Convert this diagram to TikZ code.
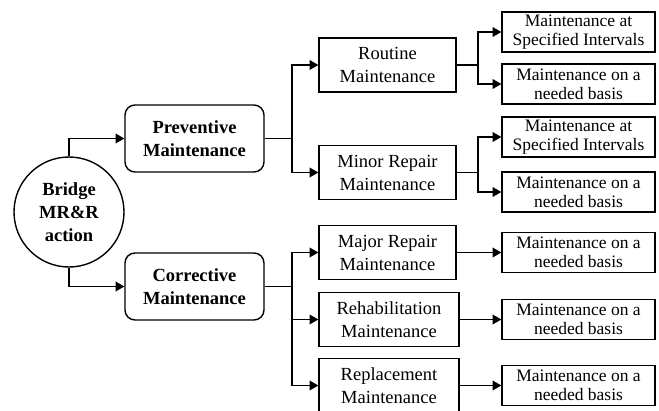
\documentclass[tikz,border=0pt]{standalone}
\usepackage{fontspec}
\setmainfont{Liberation Serif}
\usetikzlibrary{shapes,arrows,positioning}

\begin{document}
\begin{tikzpicture}[x=1pt,y=-1pt]

  \useasboundingbox (0,0) rectangle (659,410);

  \coordinate (Bridge) at (69,212);
  \coordinate (Prev) at (194.5,138.5);
  \coordinate (Corr) at (194.5,286.5);
  \coordinate (Rout) at (387.5,65);
  \coordinate (Minor) at (387.5,172.5);
  \coordinate (Major) at (387.5,252.5);
  \coordinate (Rehab) at (389,319.5);
  \coordinate (Replace) at (389,385.5);

  \coordinate (PrevJoint) at (292,138.5);
  \coordinate (CorrJoint) at (292,286.5);
  \coordinate (RoutJoint) at (478,65);
  \coordinate (MinorJoint) at (478,172.5);

  \tikzstyle{cbox}=[draw=black,line width=1.4pt,
                    shape=circle,minimum size=110pt,inner sep=0pt,
                    align=center,
                    font=\fontsize{18.5}{23}\selectfont\bfseries];
  \tikzstyle{pbox}=[draw=black,line width=1.4pt,
                    shape=rectangle,rounded corners=10pt,
                    inner sep=0pt,minimum width=139pt,minimum height=67pt,
                    align=center,
                    font=\fontsize{18.5}{23}\selectfont\bfseries];
  \tikzstyle{mbox}=[draw=black,line width=1.4pt,
                    shape=rectangle,
                    inner sep=0pt,minimum width=137pt,minimum height=54pt,
                    align=center,
                    font=\fontsize{18.5}{23}\selectfont];
  \tikzstyle{lbox}=[draw=black,line width=1.4pt,
                    shape=rectangle,
                    inner sep=0pt,minimum width=153pt,minimum height=40pt,
                    align=center,
                    font=\fontsize{17.5}{19}\selectfont];
  \tikzstyle{link}=[->,line width=1.4pt,>=triangle 60];

  \node[cbox] (BridgeBox) at (Bridge) {Bridge\\MR\&R\\action};

  \node[pbox] (PrevBox) at (Prev) {Preventive\\Maintenance};
  \draw[link] (BridgeBox.north) |- (PrevBox.west);

  \node[pbox] (CorrBox) at (Corr) {Corrective\\Maintenance};
  \draw[link] (BridgeBox.south) |- (CorrBox.west);

  % preventive branch
  \node[mbox] (RoutBox) at (Rout) {Routine\\Maintenance};
  \draw[link] (PrevBox.east) -- (PrevJoint) |- (RoutBox.west);

  \node[mbox] (MinorBox) at (Minor) {Minor Repair\\Maintenance};
  \draw[link] (PrevBox.east) -- (PrevJoint) |- (MinorBox.west);

  \node[lbox] (RoutIntBox) at (578.5,32) {Maintenance at\\Specified Intervals};
  \draw[link] (RoutBox.east) -- (RoutJoint) |- (RoutIntBox.west);

  \node[lbox] (RoutNeedBox) at (578.5,84) {Maintenance on a\\needed basis};
  \draw[link] (RoutBox.east) -- (RoutJoint) |- (RoutNeedBox.west);

  \node[lbox] (MinorIntBox) at (578.5,137) {Maintenance at\\Specified Intervals};
  \draw[link] (MinorBox.east) -- (MinorJoint) |- (MinorIntBox.west);

  \node[lbox] (MinorNeedBox) at (578.5,192) {Maintenance on a\\needed basis};
  \draw[link] (MinorBox.east) -- (MinorJoint) |- (MinorNeedBox.west);

  % corrective branch
  \node[mbox] (MajorBox) at (Major) {Major Repair\\Maintenance};
  \draw[link] (CorrBox.east) -- (CorrJoint) |- (MajorBox.west);

  \node[mbox,minimum width=140pt] (RehabBox) at (Rehab) {Rehabilitation\\Maintenance};
  \draw[link] (CorrBox.east) -- (CorrJoint) |- (RehabBox.west);

  \node[mbox,minimum width=140pt] (ReplaceBox) at (Replace) {Replacement\\Maintenance};
  \draw[link] (CorrBox.east) -- (CorrJoint) |- (ReplaceBox.west);

  \node[lbox] (MajorNeedBox) at (578.5,252.5) {Maintenance on a\\needed basis};
  \draw[link] (MajorBox) -- (MajorNeedBox);

  \node[lbox] (RehabNeedBox) at (578.5,319.5) {Maintenance on a\\needed basis};
  \draw[link] (RehabBox) -- (RehabNeedBox);

  \node[lbox] (ReplaceNeedBox) at (578.5,385.5) {Maintenance on a\\needed basis};
  \draw[link] (ReplaceBox) -- (ReplaceNeedBox);
\end{tikzpicture}
\end{document}
